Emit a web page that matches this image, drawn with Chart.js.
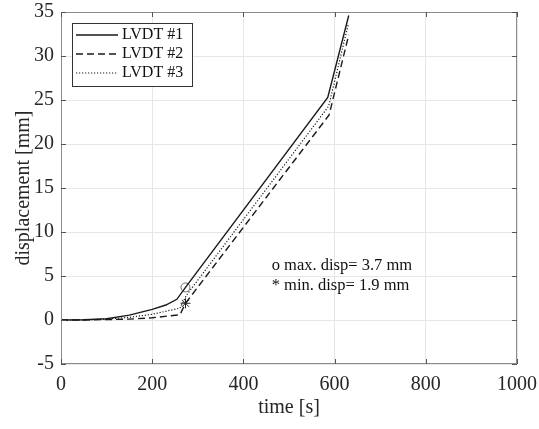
<!DOCTYPE html>
<html>
<head>
<meta charset="utf-8">
<script src="https://cdn.jsdelivr.net/npm/chart.js@4/dist/chart.umd.min.js"></script>
<style>
  html, body { margin: 0; padding: 0; background: #fff; }
  #wrap { width: 539px; height: 429px; }
</style>
</head>
<body>
<div id="wrap"><canvas id="chart" width="539" height="429"></canvas></div>
<script>
// --- data ---
const time1 = [0, 50, 100, 150, 200, 230, 254, 273, 585, 631];
const disp1 = [0, 0.03, 0.15, 0.55, 1.2, 1.7, 2.35, 3.7, 25.3, 34.6];

const time2 = [0, 50, 100, 150, 200, 261, 273, 588, 631];
const disp2 = [0, 0, 0.05, 0.1, 0.25, 0.6, 1.9, 23.3, 32.4];

const time3 = [0, 50, 100, 150, 200, 261, 275, 587, 630];
const disp3 = [0, 0.01, 0.1, 0.3, 0.65, 1.35, 2.8, 24.3, 33.6];

const seriesLabels = ["LVDT #1", "LVDT #2", "LVDT #3"];

const maxTime = [273];
const maxDisp = [3.7];
const minTime = [273];
const minDisp = [1.9];

const xTicks = [0, 200, 400, 600, 800, 1000];
const yTicks = [-5, 0, 5, 10, 15, 20, 25, 30, 35];

const noteLines = ["o max. disp= 3.7 mm", "* min. disp= 1.9 mm"];

const SERIF = "'Liberation Serif', 'Times New Roman', serif";

function toPoints(xs, ys) {
    return xs.map((x, i) => ({ x: x, y: ys[i] }));
}

// frame + inward ticks + legend + note, MATLAB style
const matlabBox = {
    id: "matlabBox",
    afterDatasetsDraw(chart) {
        const { ctx, chartArea: a, scales: { x, y } } = chart;
        ctx.save();

        // box
        ctx.strokeStyle = "#8c8c8c";
        ctx.lineWidth = 1;
        ctx.strokeRect(a.left + 0.5, a.top + 0.5, a.right - a.left - 1, a.bottom - a.top - 1);

        // inward tick marks on all four sides
        ctx.strokeStyle = "#555";
        ctx.beginPath();
        xTicks.forEach(v => {
            const px = Math.round(x.getPixelForValue(v)) + 0.5;
            ctx.moveTo(px, a.bottom); ctx.lineTo(px, a.bottom - 5);
            ctx.moveTo(px, a.top); ctx.lineTo(px, a.top + 5);
        });
        yTicks.forEach(v => {
            const py = Math.round(y.getPixelForValue(v)) + 0.5;
            ctx.moveTo(a.left, py); ctx.lineTo(a.left + 5, py);
            ctx.moveTo(a.right, py); ctx.lineTo(a.right - 5, py);
        });
        ctx.stroke();

        // legend
        const lx = a.left + 11, ly = a.top + 11, lw = 120, lh = 63;
        ctx.fillStyle = "#fff";
        ctx.fillRect(lx, ly, lw, lh);
        ctx.strokeStyle = "#333";
        ctx.strokeRect(lx + 0.5, ly + 0.5, lw, lh);
        ctx.font = "16px " + SERIF;
        ctx.textBaseline = "middle";
        ctx.textAlign = "left";
        chart.data.datasets.filter(d => seriesLabels.includes(d.label)).forEach((d, i) => {
            const rowY = ly + 12 + i * 19;
            ctx.strokeStyle = d.borderColor;
            ctx.lineWidth = d.borderWidth;
            ctx.setLineDash(d.borderDash || []);
            ctx.beginPath();
            ctx.moveTo(lx + 4, rowY);
            ctx.lineTo(lx + 46, rowY);
            ctx.stroke();
            ctx.setLineDash([]);
            ctx.fillStyle = "#111";
            ctx.fillText(d.label, lx + 50, rowY);
        });

        // note text
        ctx.font = "16.5px " + SERIF;
        ctx.fillStyle = "#111";
        ctx.fillText(noteLines[0], x.getPixelForValue(462), y.getPixelForValue(6.2));
        ctx.fillText(noteLines[1], x.getPixelForValue(462), y.getPixelForValue(3.9));

        ctx.restore();
    }
};

new Chart(document.getElementById("chart"), {
    type: "line",
    data: {
        datasets: [
            {
                label: seriesLabels[0],
                data: toPoints(time1, disp1),
                borderColor: "#1a1a1a",
                borderWidth: 1.4,
                pointRadius: 0,
                tension: 0
            },
            {
                label: seriesLabels[1],
                data: toPoints(time2, disp2),
                borderColor: "#1a1a1a",
                borderWidth: 1.4,
                borderDash: [7, 4],
                pointRadius: 0,
                tension: 0
            },
            {
                label: seriesLabels[2],
                data: toPoints(time3, disp3),
                borderColor: "#1a1a1a",
                borderWidth: 1.2,
                borderDash: [1.2, 1.8],
                pointRadius: 0,
                tension: 0
            },
            {
                label: "max",
                data: toPoints(maxTime, maxDisp),
                showLine: false,
                pointStyle: "circle",
                pointRadius: 4.5,
                borderColor: "#666",
                borderWidth: 1,
                backgroundColor: "rgba(0,0,0,0)"
            },
            {
                label: "min",
                data: toPoints(minTime, minDisp),
                showLine: false,
                pointStyle: "star",
                pointRadius: 5,
                borderColor: "#222",
                borderWidth: 1,
                backgroundColor: "rgba(0,0,0,0)"
            }
        ]
    },
    options: {
        responsive: false,
        animation: false,
        layout: { padding: { left: 0, top: 12, right: 22, bottom: 0 } },
        plugins: {
            legend: { display: false },
            tooltip: { enabled: false }
        },
        scales: {
            x: {
                type: "linear",
                min: 0,
                max: 1000,
                afterFit: (s) => { s.height = 65; s.paddingLeft = 0; s.paddingRight = 0; },
                afterBuildTicks: (s) => { s.ticks = xTicks.map(v => ({ value: v })); },
                grid: { color: "#e6e6e6", drawTicks: false },
                border: { display: false },
                ticks: {
                    padding: 9,
                    color: "#262626",
                    font: { family: SERIF, size: 20 },
                    callback: (v) => String(v)
                },
                title: {
                    display: true,
                    text: "time [s]",
                    color: "#262626",
                    font: { family: SERIF, size: 20 },
                    padding: { top: 0, bottom: 9 }
                }
            },
            y: {
                type: "linear",
                min: -5,
                max: 35,
                afterFit: (s) => { s.width = 61; s.paddingTop = 0; s.paddingBottom = 0; },
                afterBuildTicks: (s) => { s.ticks = yTicks.map(v => ({ value: v })); },
                grid: { color: "#e6e6e6", drawTicks: false },
                border: { display: false },
                ticks: {
                    padding: 7,
                    color: "#262626",
                    font: { family: SERIF, size: 20 },
                    callback: (v) => String(v)
                },
                title: {
                    display: true,
                    text: "displacement [mm]",
                    color: "#262626",
                    font: { family: SERIF, size: 20 },
                    padding: { top: 12, bottom: 0 }
                }
            }
        }
    },
    plugins: [matlabBox]
});
</script>
</body>
</html>
